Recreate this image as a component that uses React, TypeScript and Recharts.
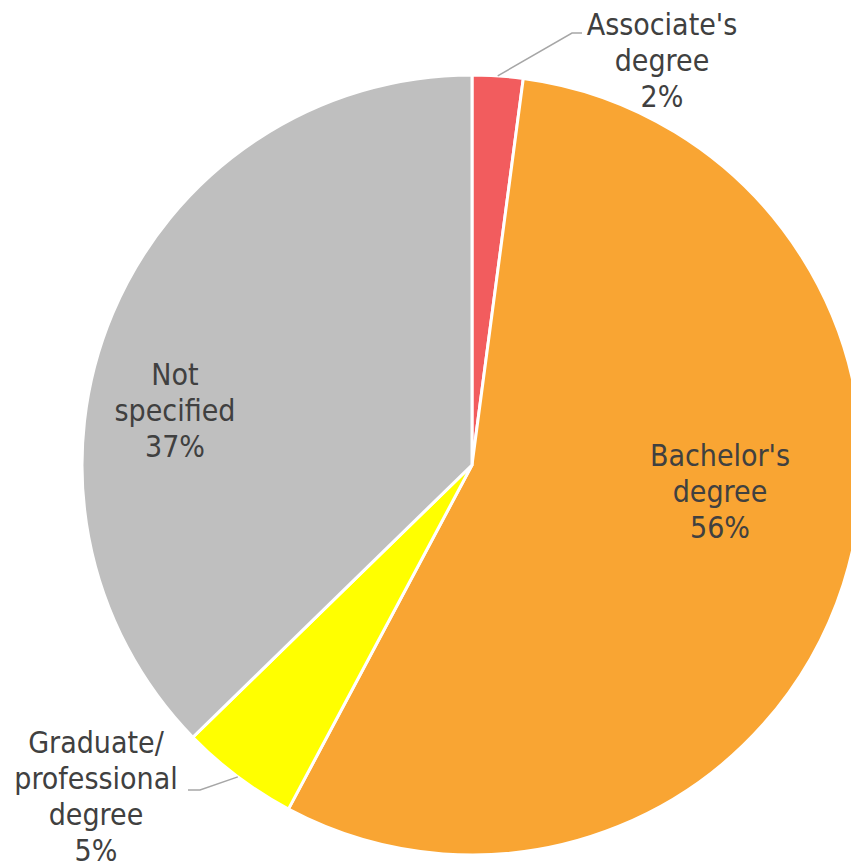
import React from 'react';
import { PieChart, Pie, Cell } from 'recharts';

// education level breakdown
const categories = ["Associate's degree", "Bachelor's degree", 'Graduate/ professional degree', 'Not specified'];
const shares = [2.1, 55.7, 4.9, 37.3];
const labelLines = [
  ["Associate's", 'degree'],
  ["Bachelor's", 'degree'],
  ['Graduate/', 'professional', 'degree'],
  ['Not', 'specified'],
];
const colors = ['#F25C5E', '#F9A533', '#FFFF00', '#BFBFBF'];

// where each label sits, relative to the pie centre (px); leader only for outside ones
const labelPlacement = [
  { dx: 190, dy: -405, elbow: [100, -432], end: [110, -432] },
  { dx: 248, dy: 26 },
  { dx: -376, dy: 331, elbow: [-272, 325], end: [-284, 325] },
  { dx: -297, dy: -55 },
];

const data = categories.map((name, i) => ({ name, value: shares[i] }));
const total = shares.reduce((a, b) => a + b, 0);

const TEXT = '#404040';
const FONT = '"DejaVu Sans Condensed", "DejaVu Sans", sans-serif';
const LINE_H = 36;

const renderLabel = (props: any) => {
  const { cx, cy, midAngle, outerRadius, index, value } = props;
  const place = labelPlacement[index];
  const lines = [...labelLines[index], `${Math.round((value / total) * 100)}%`];
  const x = cx + place.dx;
  const yMid = cy + place.dy;
  const top = yMid - ((lines.length - 1) * LINE_H) / 2;
  const RAD = Math.PI / 180;
  let leader = null;
  if (place.elbow) {
    const sx = cx + outerRadius * Math.cos(-midAngle * RAD);
    const sy = cy + outerRadius * Math.sin(-midAngle * RAD);
    const pts = `${sx},${sy} ${cx + place.elbow[0]},${cy + place.elbow[1]} ${cx + place.end[0]},${cy + place.end[1]}`;
    leader = <polyline points={pts} fill="none" stroke="#A6A6A6" strokeWidth={1.5} />;
  }
  return (
    <g key={`lbl-${index}`}>
      {leader}
      <text x={x} y={top} textAnchor="middle" fill={TEXT} fontFamily={FONT} fontSize={30}>
        {lines.map((t, i) => (
          <tspan key={i} x={x} y={top + i * LINE_H} dominantBaseline="central">
            {t}
          </tspan>
        ))}
      </text>
    </g>
  );
};

export default function App() {
  return (
    <div style={{ position: 'absolute', left: 0, top: 0, width: 851, height: 866, background: '#fff' }}>
      <PieChart width={851} height={866} margin={{ top: 0, right: 0, bottom: 0, left: 0 }}>
        <Pie
          data={data}
          dataKey="value"
          nameKey="name"
          cx={472}
          cy={465}
          outerRadius={390}
          startAngle={90}
          endAngle={-270}
          stroke="#FFFFFF"
          strokeWidth={3}
          label={renderLabel}
          labelLine={false}
          isAnimationActive={false}
        >
          {data.map((d, i) => (
            <Cell key={d.name} fill={colors[i]} />
          ))}
        </Pie>
      </PieChart>
    </div>
  );
}
